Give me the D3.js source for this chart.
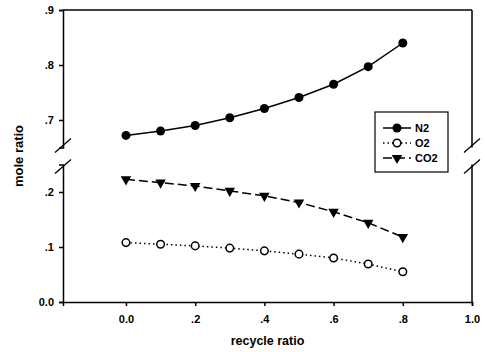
<!DOCTYPE html>
<html><head><meta charset="utf-8">
<script src="https://cdn.jsdelivr.net/npm/d3@7"></script>
<style>
body{margin:0;background:#fff;}
text{font-family:"Liberation Sans",Arial,sans-serif;font-weight:bold;fill:#000;}
</style></head>
<body><svg id="c" width="485" height="352"></svg>
<script>
const recycle = [0.0,0.1,0.2,0.3,0.4,0.5,0.6,0.7,0.8];
const n2  = [0.672,0.680,0.690,0.704,0.721,0.741,0.765,0.797,0.840];
const o2  = [0.108,0.105,0.102,0.098,0.093,0.087,0.080,0.069,0.055];
const co2 = [0.223,0.217,0.211,0.202,0.193,0.181,0.164,0.144,0.118];
const xTicks = [0.0,0.2,0.4,0.6,0.8,1.0];
const yUpperTicks = [0.7,0.8,0.9];
const yLowerTicks = [0.0,0.1,0.2];
const seriesNames = ["N2","O2","CO2"];

const L=63,R=472,T=10,B=302;
const svg=d3.select("#c");
const x=d3.scaleLinear().domain([-0.182,1.0]).range([L,R]);
const yU=d3.scaleLinear().domain([0.65,0.9]).range([147.5,T]);
const yL=d3.scaleLinear().domain([0,0.25]).range([B,164.5]);
const fmt=v=>v===0?"0.0":(v===1?"1.0":d3.format(".1f")(v).replace(/^0/,""));

function styleAxis(g){
  g.selectAll("path,line").attr("stroke","#000").attr("stroke-width",1.5);
  g.selectAll("text").attr("font-size",11).style("font-family","'Liberation Sans',Arial,sans-serif").style("font-weight","bold");
}
// axes
svg.append("g").attr("transform",`translate(${L},0)`)
  .call(d3.axisLeft(yU).tickValues(yUpperTicks).tickFormat(fmt).tickSizeOuter(0).tickSize(4).tickPadding(5)).call(styleAxis);
svg.append("g").attr("transform",`translate(${L},0)`)
  .call(d3.axisLeft(yL).tickValues(yLowerTicks).tickFormat(fmt).tickSizeOuter(0).tickSize(4).tickPadding(5)).call(styleAxis);
svg.append("g").attr("transform",`translate(0,${B})`)
  .call(d3.axisBottom(x).tickValues(xTicks).tickFormat(fmt).tickSizeOuter(0).tickSize(4).tickPadding(9)).call(styleAxis);
// frame: top and right
svg.append("line").attr("x1",L).attr("x2",R).attr("y1",T).attr("y2",T).attr("stroke","#000").attr("stroke-width",1.5);
svg.append("line").attr("x1",R).attr("x2",R).attr("y1",T).attr("y2",yU.range()[0]).attr("stroke","#000").attr("stroke-width",1.5);
svg.append("line").attr("x1",R).attr("x2",R).attr("y1",yL.range()[1]).attr("y2",B).attr("stroke","#000").attr("stroke-width",1.5);
// break marks
[L,R].forEach(xx=>{
  [yU.range()[0]-2,yL.range()[1]+2].forEach(yy=>{
    svg.append("line").attr("x1",xx-8).attr("y1",yy+7).attr("x2",xx+8).attr("y2",yy-7)
      .attr("stroke","#000").attr("stroke-width",1.3);
  });
});
// titles
svg.append("text").attr("x",(L+R)/2).attr("y",345).attr("text-anchor","middle").attr("font-size",12.5).text("recycle ratio");
svg.append("text").attr("transform",`translate(23,${(T+B)/2}) rotate(-90)`).attr("text-anchor","middle").attr("font-size",13).text("mole ratio");

const tri=d3.symbol().type(d3.symbolTriangle).size(48);
function drawSeries(vals,ys,dash,marker){
  const line=d3.line().x((d,i)=>x(recycle[i])).y(d=>ys(d));
  svg.append("path").datum(vals).attr("d",line).attr("fill","none").attr("stroke","#000")
    .attr("stroke-width",1.5).attr("stroke-dasharray",dash);
  vals.forEach((v,i)=>marker(svg,x(recycle[i]),ys(v)));
}
const mk={
  N2:(g,cx,cy)=>g.append("circle").attr("cx",cx).attr("cy",cy).attr("r",4.5).attr("fill","#000"),
  O2:(g,cx,cy)=>g.append("circle").attr("cx",cx).attr("cy",cy).attr("r",3.8).attr("fill","#fff").attr("stroke","#000").attr("stroke-width",1.5),
  CO2:(g,cx,cy)=>g.append("path").attr("d",tri).attr("transform",`translate(${cx},${cy}) rotate(180)`).attr("fill","#000")
};
drawSeries(n2,yU,null,mk.N2);
drawSeries(o2,yL,"1.5,3",mk.O2);
drawSeries(co2,yL,"9,4",mk.CO2);

// legend
const lg=svg.append("g");
lg.append("rect").attr("x",375).attr("y",112).attr("width",73).attr("height",60).attr("fill","#fff").attr("stroke","#000").attr("stroke-width",1.2);
const dashes={N2:null,O2:"1.5,3",CO2:"9,4"};
seriesNames.forEach((s,i)=>{
  const yy=128+i*15;
  lg.append("line").attr("x1",383).attr("x2",411).attr("y1",yy).attr("y2",yy).attr("stroke","#000").attr("stroke-width",1.5).attr("stroke-dasharray",dashes[s]);
  mk[s](lg,397,yy);
  lg.append("text").attr("x",415).attr("y",yy+4).attr("font-size",11).text(s);
});
</script></body></html>
